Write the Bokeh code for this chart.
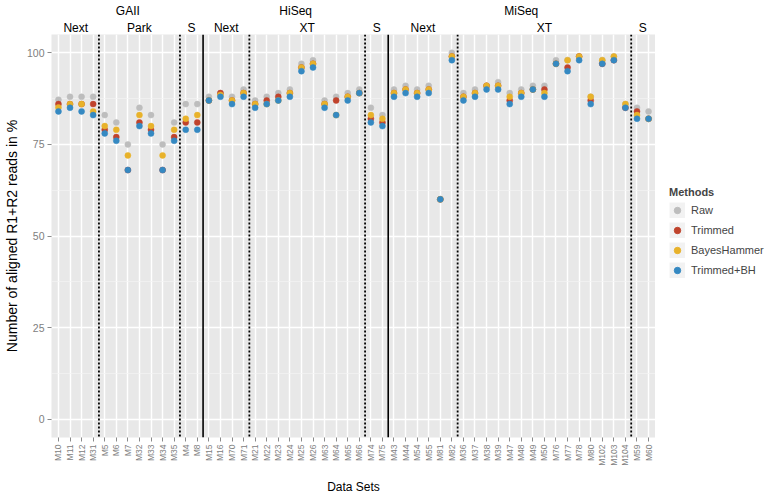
from math import pi
from itertools import accumulate
from bokeh.plotting import figure
from bokeh.layouts import row
from bokeh.models import (ColumnDataSource, Range1d, FixedTicker, LinearAxis,
                          Span, Legend, LegendItem)
from bokeh.embed import file_html
from bokeh.resources import INLINE

# ---------------- data ----------------
samples = ["M10", "M11", "M12", "M31", "M5", "M6", "M7", "M32", "M33", "M34", "M35", "M4", "M8",
           "M15", "M16", "M70", "M71", "M21", "M22", "M23", "M24", "M25", "M26", "M63", "M64",
           "M65", "M66", "M74", "M75",
           "M43", "M44", "M54", "M55", "M81", "M82", "M36", "M37", "M38", "M39", "M47", "M48",
           "M49", "M50", "M76", "M77", "M78", "M80", "M102", "M103", "M104", "M59", "M60"]

platforms = ["GAII", "HiSeq", "MiSeq"]
platform_sizes = [13, 16, 23]
kits = ["Next", "Park", "S", "Next", "XT", "S", "Next", "XT", "S"]
kit_sizes = [4, 7, 2, 4, 10, 2, 6, 15, 2]

raw = [87.2, 88, 88, 88, 83, 81, 75, 85, 83, 75, 81, 86, 86,
       88, 89, 88, 90, 87, 88, 89, 90, 97, 98, 87, 88, 89, 90, 85, 83,
       90, 91, 90, 91, 60, 100, 89, 90, 91, 92, 89, 90, 91, 91, 98, 98, 99, 88,
       98, 99, 86, 85, 84]
trimmed = [86, 86, 86, 86, 79, 77, 68, 81, 79, 68, 77, 81, 81,
           87, 89, 87, 89, 86, 87, 88, 89, 96, 97, 86, 87, 88, 89, 82, 81,
           89, 90, 89, 90, 60, 99, 88, 89, 91, 91, 87, 89, 90, 90, 97, 96, 99, 87,
           97, 98, 85, 84, 82]
bayes = [85.1, 86, 86, 84, 80, 79, 72, 83, 80, 72, 79, 82, 83,
         87, 88.5, 87, 89, 86, 86, 87, 89, 96, 97, 86, 83, 88, 89, 83, 82,
         89, 90, 89, 90, 60, 99, 88, 89, 91, 91, 88, 89, 90, 89, 97, 98, 99, 88,
         98, 99, 86, 83, 82]
trimmed_bh = [84, 85, 84, 83, 78, 76, 68, 80, 78, 68, 76, 79, 79,
              87, 88, 86, 88, 85, 86, 87, 88, 95, 96, 85, 83, 87, 89, 81, 80,
              88, 89, 88, 89, 60, 98, 87, 88, 90, 90, 86, 88, 90, 88, 97, 95, 98, 86,
              97, 98, 85, 82, 82]

methods = ["Raw", "Trimmed", "BayesHammer", "Trimmed+BH"]
series = [raw, trimmed, bayes, trimmed_bh]
colors = ["#BDBDBD", "#C0432C", "#E8B22A", "#3589C2"]
y_ticks = [0, 25, 50, 75, 100]

# ---------------- figure ----------------
FONT = "Liberation Sans"
FW, FH = 604, 403
H = 489
n = len(samples)
pos = list(range(1, n + 1))          # discrete positions of the samples


def num(v):
    return int(v) if float(v).is_integer() else v


p = figure(frame_width=FW, frame_height=FH,
           x_range=Range1d(0.4, n + 0.6), y_range=Range1d(-5, 105),
           output_backend="svg", toolbar_location=None,
           min_border_left=46, min_border_right=0,
           min_border_top=0, min_border_bottom=58,
           background_fill_color="#E8E8E8", border_fill_color="white",
           outline_line_color=None)

# grid
p.xgrid.ticker = FixedTicker(ticks=pos)
p.xgrid.grid_line_color = "white"
p.xgrid.grid_line_width = 1.5
minor = [(a + b) / 2 for a, b in zip(y_ticks[:-1], y_ticks[1:])]
p.ygrid.ticker = FixedTicker(ticks=y_ticks, minor_ticks=minor)
p.ygrid.grid_line_color = "white"
p.ygrid.grid_line_width = 1.3
p.ygrid.minor_grid_line_color = "#F4F4F4"
p.ygrid.minor_grid_line_width = 0.7
p.yaxis.ticker = FixedTicker(ticks=y_ticks)
p.xaxis.ticker = FixedTicker(ticks=pos)
p.xaxis.major_label_overrides = {i: s for i, s in zip(pos, samples)}

# axes
for ax in p.axis:
    ax.axis_line_color = None
    ax.major_tick_line_color = "#8A8A8A"
    ax.major_tick_out = 4
    ax.major_tick_in = 0
    ax.minor_tick_line_color = None
    ax.major_label_text_color = "#808080"
    ax.major_label_text_font = FONT
    ax.axis_label_text_font = FONT
    ax.axis_label_text_font_style = "normal"
    ax.axis_label_text_color = "black"
    ax.major_label_standoff = 3

p.xaxis.axis_label = "Data Sets"
p.xaxis.major_label_orientation = pi / 2
p.xaxis.major_label_text_font_size = "8.5px"
p.xaxis.axis_label_text_font_size = "12px"
p.xaxis.axis_label_standoff = 11

p.yaxis.axis_label = "Number of aligned R1+R2 reads in %"
p.yaxis.major_label_text_font_size = "10.5px"
p.yaxis.axis_label_text_font_size = "14px"
p.yaxis.axis_label_standoff = 4


# strip labels above the panel, as two label-only axes
def strip_axis(names, sizes):
    starts = [0] + list(accumulate(sizes))[:-1]
    centers = [num(s + (k + 1) / 2) for s, k in zip(starts, sizes)]
    ax = LinearAxis(ticker=FixedTicker(ticks=centers),
                    major_label_overrides={c: nm for c, nm in zip(centers, names)})
    ax.axis_line_color = None
    ax.major_tick_line_color = None
    ax.minor_tick_line_color = None
    ax.major_tick_out = 0
    ax.major_tick_in = 0
    ax.major_label_standoff = 0
    ax.major_label_text_font = FONT
    ax.major_label_text_font_size = "12px"
    ax.major_label_text_color = "black"
    return ax


p.add_layout(strip_axis(kits, kit_sizes), "above")
p.add_layout(strip_axis(platforms, platform_sizes), "above")

# separators between kits (solid between platforms)
kit_bounds = list(accumulate(kit_sizes))[:-1]
plat_bounds = set(list(accumulate(platform_sizes))[:-1])
for b in kit_bounds:
    solid = b in plat_bounds
    p.add_layout(Span(location=b + 0.5, dimension="height", line_color="black",
                      line_width=1.6 if solid else 1.8,
                      line_dash="solid" if solid else "2 2"))

# points
for vals, col in zip(series, colors):
    src = ColumnDataSource(dict(x=pos, y=vals))
    p.scatter("x", "y", source=src, size=6, fill_color=col, line_color=col,
              line_width=0.5)

# ---------------- legend (separate narrow figure) ----------------
lg = figure(width=118, height=H, x_range=Range1d(0, 1), y_range=Range1d(0, 1),
            x_axis_type=None, y_axis_type=None, output_backend="svg",
            toolbar_location=None, min_border=0, outline_line_color=None,
            background_fill_color="white", border_fill_color="white")
lg.xgrid.visible = False
lg.ygrid.visible = False
items = []
for name, vals, col in zip(methods, series, colors):
    # renderers only for the legend keys; their single point lies outside the view
    key = lg.line(x=pos[:1], y=vals[:1], line_color="#F2F2F2", line_width=16,
                  line_cap="butt")
    dot = lg.scatter(x=pos[:1], y=vals[:1], size=6, fill_color=col, line_color=col)
    items.append(LegendItem(label=name, renderers=[key, dot]))

legend = Legend(items=items, title="Methods", location=(14, 152),
                glyph_width=16, glyph_height=16, spacing=4, label_standoff=6,
                label_text_font=FONT, label_text_font_size="11px",
                title_text_font=FONT, title_text_font_size="11px",
                title_text_font_style="bold", title_standoff=4,
                padding=6, margin=0, border_line_color=None,
                background_fill_alpha=0)
lg.add_layout(legend)

layout = row(p, lg)
open("out.html", "w").write(file_html(layout, INLINE))
